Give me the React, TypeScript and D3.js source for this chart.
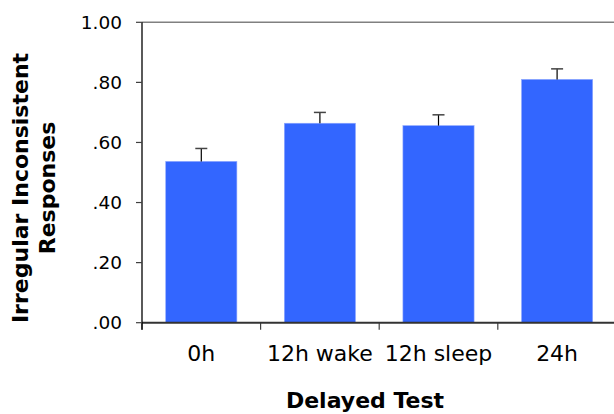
import React from "react";
import * as d3 from "d3";

const categories = ["0h", "12h wake", "12h sleep", "24h"];
const values = [0.537, 0.664, 0.656, 0.81];
const errors = [0.043, 0.036, 0.036, 0.035];
const yTicks = [0, 0.2, 0.4, 0.6, 0.8, 1.0];
const yTickLabels = [".00", ".20", ".40", ".60", ".80", "1.00"];

const W = 614;
const H = 414;
const left = 142;
const right = 616.4;
const top = 22.3;
const bottom = 322.7;
const FONT = "Verdana, 'DejaVu Sans', sans-serif";

export default function App() {
  const x = d3.scaleBand<string>().domain(categories).range([left, right]).paddingInner(0.4).paddingOuter(0.2);
  const xTicks = d3.scaleBand<string>().domain(categories).range([left, right]);
  const y = d3.scaleLinear().domain([0, 1]).range([bottom, top]);

  return (
    <svg width={W} height={H} style={{ position: "absolute", left: 0, top: 0, background: "#fff" }}>
      <line x1={left} x2={W} y1={top} y2={top} stroke="#808080" strokeWidth={1.5} />
      {categories.map((c, i) => (
        <g key={c}>
          <rect
            x={x(c)!}
            y={y(values[i])}
            width={x.bandwidth()}
            height={bottom - y(values[i])}
            fill="#3366FF"
            stroke="#8FA8FF"
            strokeWidth={0.6}
          />
          <line
            x1={x(c)! + x.bandwidth() / 2}
            x2={x(c)! + x.bandwidth() / 2}
            y1={y(values[i])}
            y2={y(values[i] + errors[i])}
            stroke="#000"
            strokeWidth={1.2}
          />
          <line
            x1={x(c)! + x.bandwidth() / 2 - 6}
            x2={x(c)! + x.bandwidth() / 2 + 6}
            y1={y(values[i] + errors[i])}
            y2={y(values[i] + errors[i])}
            stroke="#444"
            strokeWidth={1.5}
          />
          <text
            x={xTicks(c)! + xTicks.bandwidth() / 2}
            y={361}
            textAnchor="middle"
            fontFamily={FONT}
            fontSize={22}
            fill="#000"
          >
            {c}
          </text>
        </g>
      ))}
      {categories.concat([""]).map((c, i) => {
        const xx = left + i * xTicks.bandwidth();
        return <line key={"t" + i} x1={xx} x2={xx} y1={bottom} y2={bottom + 7} stroke="#404040" strokeWidth={1.2} />;
      })}
      <line x1={left} x2={W} y1={bottom} y2={bottom} stroke="#333" strokeWidth={2} />
      <line x1={left} x2={left} y1={top} y2={bottom + 7} stroke="#000" strokeWidth={1.3} />
      {yTicks.map((t, i) => (
        <g key={t}>
          <line x1={left - 6} x2={left} y1={y(t)} y2={y(t)} stroke="#404040" strokeWidth={1.2} />
          <text
            x={122}
            y={y(t) + 6.5}
            textAnchor="end"
            fontFamily={FONT}
            fontSize={18.5}
            fill="#000"
          >
            {yTickLabels[i]}
          </text>
        </g>
      ))}
      <text
        x={365}
        y={408}
        textAnchor="middle"
        fontFamily={FONT}
        fontWeight="bold"
        fontSize={22}
        fill="#000"
      >
        Delayed Test
      </text>
      <g transform="translate(0,188) rotate(-90)">
        <text x={0} y={27.5} textAnchor="middle" fontFamily={FONT} fontWeight="bold" fontSize={22} fill="#000">
          Irregular Inconsistent
        </text>
        <text x={0} y={55} textAnchor="middle" fontFamily={FONT} fontWeight="bold" fontSize={22} fill="#000">
          Responses
        </text>
      </g>
    </svg>
  );
}
